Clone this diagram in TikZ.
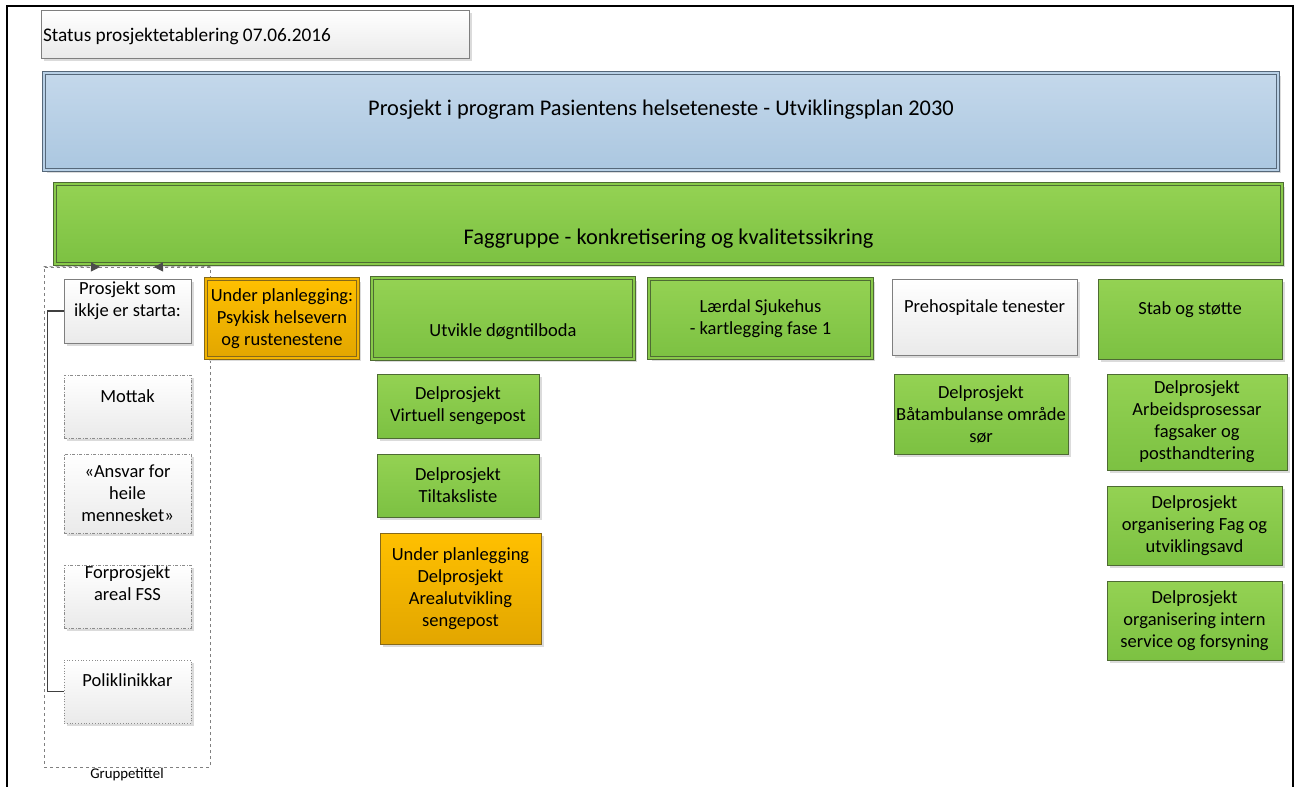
\documentclass[tikz,border=0pt]{standalone}
\usepackage{fontspec}
\setmainfont{Carlito}
\usetikzlibrary{arrows.meta,shadows}
\definecolor{grtop}{HTML}{94D253}
\definecolor{grmid}{HTML}{88CA4A}
\definecolor{grbot}{HTML}{7CC142}
\definecolor{grline}{HTML}{4E6B33}
\definecolor{ortop}{HTML}{FFC000}
\definecolor{ormid}{HTML}{F2B300}
\definecolor{orbot}{HTML}{E2A600}
\definecolor{orline}{HTML}{86691A}
\definecolor{bltop}{HTML}{C4D8EB}
\definecolor{blmid}{HTML}{B8D0E6}
\definecolor{blbot}{HTML}{ABC7E0}
\definecolor{blline}{HTML}{56687A}
\definecolor{gytop}{HTML}{FFFFFF}
\definecolor{gybot}{HTML}{EAEAEA}
\definecolor{gyline}{HTML}{7F7F7F}

\begin{document}
\begin{tikzpicture}[x=1pt, y=-1pt,
  font=\fontsize{18.5}{22}\selectfont,
  >={Triangle[length=9pt,width=9pt,color=black!70]},
  wh/.style 2 args={minimum width=#1, minimum height=#2},
  txt/.style 2 args={text height=#1, text depth=#2},
  big/.style={font=\fontsize{22.4}{26}\selectfont},
  box/.style={rectangle, inner sep=1pt, align=center, line width=0.8pt,
              drop shadow={shadow xshift=2.5pt, shadow yshift=-2.5pt, fill=black!14, opacity=1}},
  grnbox/.style={box, draw=grline, top color=grtop, bottom color=grbot},
  grndbl/.style={grnbox, double=grmid, double distance=2pt, line width=0.7pt},
  orgbox/.style={box, draw=orline, top color=ortop, bottom color=orbot},
  orgdbl/.style={orgbox, double=ormid, double distance=2pt, line width=0.7pt},
  blubox/.style={box, draw=blline, top color=bltop, bottom color=blbot,
                 double=blmid, double distance=2pt, line width=0.7pt},
  grybox/.style={box, draw=gyline, top color=gytop, bottom color=gybot},
  idea/.style={grybox, draw=black!45, dash pattern=on 3pt off 1.5pt on 1pt off 1.5pt},
  ideadot/.style={grybox, draw=black!45, dotted},
  grpbox/.style={draw=black!50, dashed, line width=0.8pt, inner sep=0pt},
  grparr/.style={->, draw=black!50, dashed, line width=0.8pt},
  conn/.style={draw=black!75, line width=1.3pt},
]
\useasboundingbox (0,0) rectangle (1299,787);

% ---- header ----
\node[grybox, font=\fontsize{19.3}{23}\selectfont, txt={18pt}{4pt}, wh={428pt}{48pt}]
      (status) at (255,34) {\makebox[424pt][l]{Status prosjektetablering 07.06.2016}};
\node[blubox, big, wh={1234pt}{97pt}, txt={17pt}{30pt}] (prog) at (661,121.5)
      {Prosjekt i program Pasientens helseteneste - Utviklingsplan 2030};
\node[grndbl, big, wh={1227pt}{80pt}, txt={45pt}{5pt}] (fag) at (668.5,224)
      {Faggruppe - konkretisering og kvalitetssikring};

% ---- group of projects not started (x=127.5) ----
\node[grpbox, wh={166pt}{500pt},
      label={[font=\fontsize{14.8}{17}\selectfont, inner sep=0pt, yshift=-1pt]below:Gruppetittel}]
      (grp) at (127,517) {};
\node[grybox,  wh={127pt}{64pt}, text depth=24pt] (ikke)   at (127.5,311)   {Prosjekt som\\ikkje er starta:};
\node[idea,    wh={127pt}{63pt}, txt={14pt}{23pt}] (mottak) at (127.5,406.5) {Mottak};
\node[idea,    wh={127pt}{79pt}]                   (ansvar) at (127.5,493.5) {«Ansvar for\\heile\\mennesket»};
\node[idea,    wh={127pt}{63pt}, text depth=26pt] (forpro) at (127.5,596.5) {Forprosjekt\\areal FSS};
\node[ideadot, wh={127pt}{63pt}, txt={14pt}{25pt}] (polikl) at (127.5,691.5) {Poliklinikkar};

\coordinate (gin1) at (100,267);
\coordinate (gin2) at (154,267);
\draw[grparr] (grp.north west) -- (gin1);
\draw[grparr] (grp.north east) -- (gin2);
\draw[conn] (ikke.west) -- ++(-16,0) |- (polikl.west);

% ---- projects (row y=318) ----
\node[orgdbl, wh={152pt}{79pt}] (psyk) at (282,318.5)
      {Under planlegging:\\Psykisk helsevern\\og rustenestene};
\node[grndbl, wh={262pt}{81pt}, txt={40pt}{4pt}] (dogn) at (503,318.5) {Utvikle døgntilboda};
\node[grndbl, wh={223pt}{79pt}] (laerdal) at (760.5,318.5) {Lærdal Sjukehus\\- kartlegging fase 1};
\node[grybox, wh={185pt}{76pt}, txt={14pt}{24pt}] (prehosp) at (984.5,317) {Prehospitale tenester};
\node[grnbox, wh={184pt}{80pt}, txt={14pt}{23pt}] (stab) at (1190,319) {Stab og støtte};

% ---- sub-projects ----
\node[grnbox, wh={162pt}{64pt}]  (virt)   at (458,406)     {Delprosjekt\\Virtuell sengepost};
\node[grnbox, wh={162pt}{63pt}]  (tiltak) at (458,485.5)   {Delprosjekt\\Tiltaksliste};
\node[orgbox, wh={161pt}{111pt}] (areal)  at (460.5,588.5) {Under planlegging\\Delprosjekt\\Arealutvikling\\sengepost};
\node[grnbox, wh={174pt}{80pt}]  (batamb) at (981,414)     {Delprosjekt\\Båtambulanse område\\sør};
\node[grnbox, wh={180pt}{96pt}]  (arbeid) at (1197,422)    {Delprosjekt\\Arbeidsprosessar\\fagsaker og\\posthandtering};
\node[grnbox, wh={175pt}{79pt}]  (orgfag) at (1194.5,525.5) {Delprosjekt\\organisering Fag og\\utviklingsavd};
\node[grnbox, wh={175pt}{79pt}]  (orgint) at (1194.5,620.5) {Delprosjekt\\organisering intern\\service og forsyning};

% ---- page frame ----
\draw[line width=2.5pt] (7,787) -- (7,6) -- (1293,6) -- (1293,787);
\end{tikzpicture}
\end{document}
